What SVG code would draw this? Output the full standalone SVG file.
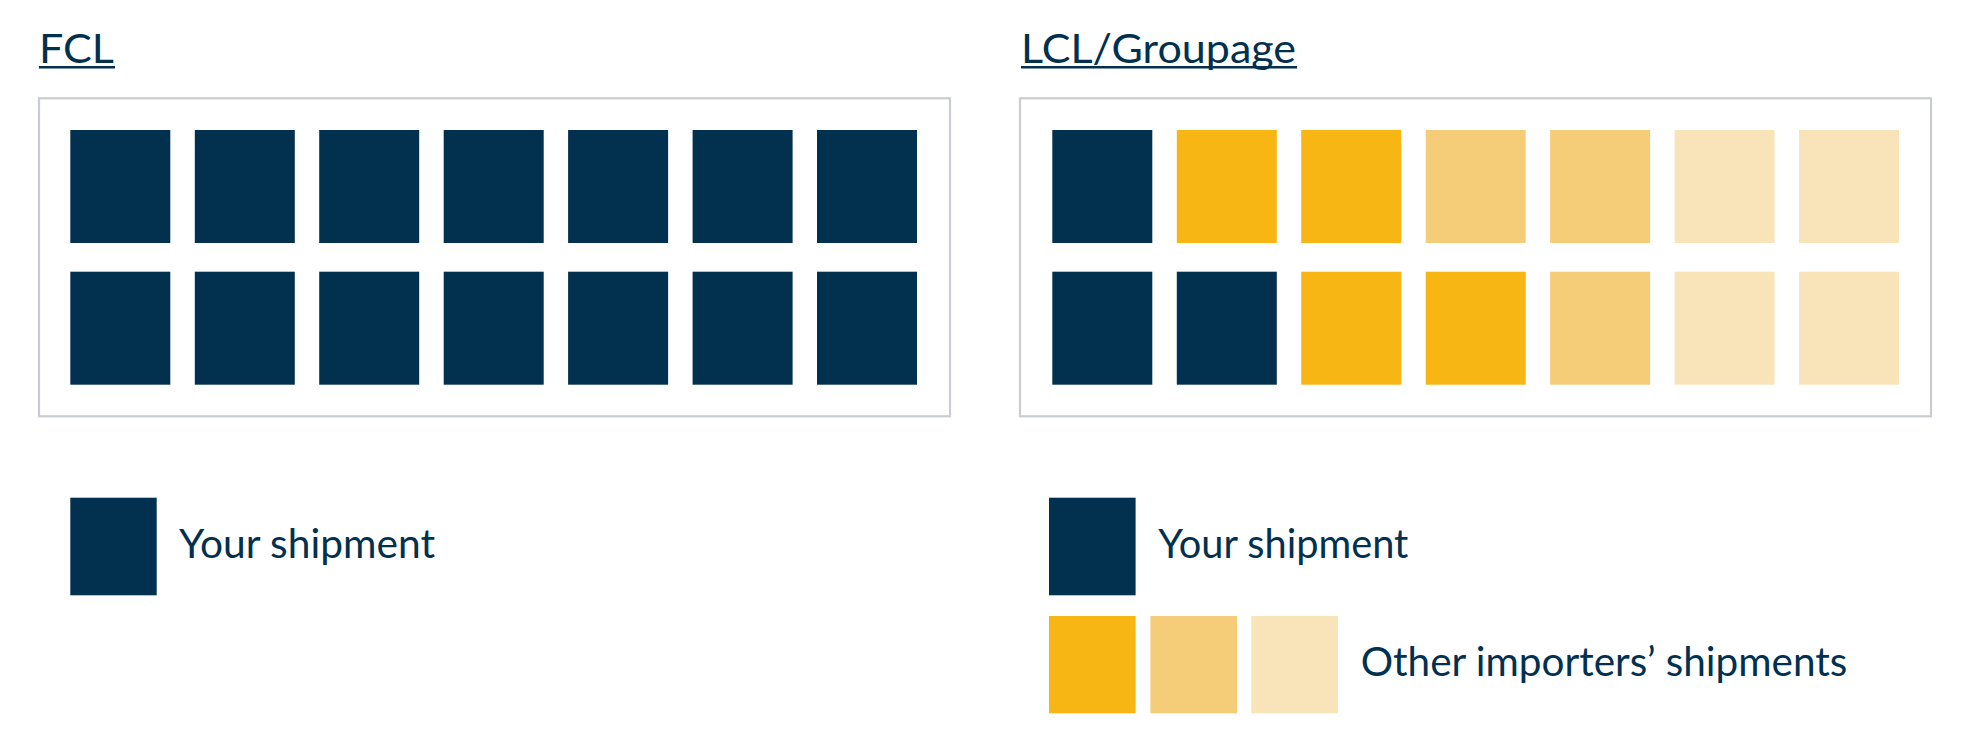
<svg xmlns="http://www.w3.org/2000/svg" width="1970" height="741" viewBox="0 0 1970 741">
  <style>
    .frame { fill: #ffffff; stroke: #c9ccd0; stroke-width: 2.2; }
    .navy { fill: #02304f; }
    .y1 { fill: #f7b614; }
    .y2 { fill: #f5cc78; }
    .y3 { fill: #f9e4b9; }
    .t { font-family: Lato, "Liberation Sans", sans-serif; font-size: 40px; fill: #02304f; }
    .ul { stroke: #02304f; stroke-width: 2.4; }
  </style>
  <rect width="1970" height="741" fill="#ffffff"/>

  <g id="fcl-title">
    <text class="t" x="39" y="62.5" textLength="75" lengthAdjust="spacingAndGlyphs">FCL</text>
    <line class="ul" x1="39" y1="67.3" x2="115" y2="67.3"/>
  </g>

  <g id="lcl-title">
    <text class="t" x="1021" y="62.5" textLength="275" lengthAdjust="spacingAndGlyphs">LCL/Groupage</text>
    <line class="ul" x1="1021" y1="67.3" x2="1297" y2="67.3"/>
  </g>

  <g id="fcl-container">
    <rect class="frame" x="39" y="98.3" width="911" height="318"/>
    <rect class="navy" x="70.3" y="130" width="100" height="113"/>
    <rect class="navy" x="194.8" y="130" width="100" height="113"/>
    <rect class="navy" x="319.2" y="130" width="100" height="113"/>
    <rect class="navy" x="443.7" y="130" width="100" height="113"/>
    <rect class="navy" x="568.1" y="130" width="100" height="113"/>
    <rect class="navy" x="692.6" y="130" width="100" height="113"/>
    <rect class="navy" x="817" y="130" width="100" height="113"/>
    <rect class="navy" x="70.3" y="271.7" width="100" height="113"/>
    <rect class="navy" x="194.8" y="271.7" width="100" height="113"/>
    <rect class="navy" x="319.2" y="271.7" width="100" height="113"/>
    <rect class="navy" x="443.7" y="271.7" width="100" height="113"/>
    <rect class="navy" x="568.1" y="271.7" width="100" height="113"/>
    <rect class="navy" x="692.6" y="271.7" width="100" height="113"/>
    <rect class="navy" x="817" y="271.7" width="100" height="113"/>
  </g>

  <g id="lcl-container">
    <rect class="frame" x="1020" y="98.3" width="911" height="318"/>
    <rect class="navy" x="1052.3" y="130" width="100" height="113"/>
    <rect class="y1" x="1176.8" y="130" width="100" height="113"/>
    <rect class="y1" x="1301.2" y="130" width="100" height="113"/>
    <rect class="y2" x="1425.7" y="130" width="100" height="113"/>
    <rect class="y2" x="1550.1" y="130" width="100" height="113"/>
    <rect class="y3" x="1674.6" y="130" width="100" height="113"/>
    <rect class="y3" x="1799" y="130" width="100" height="113"/>
    <rect class="navy" x="1052.3" y="271.7" width="100" height="113"/>
    <rect class="navy" x="1176.8" y="271.7" width="100" height="113"/>
    <rect class="y1" x="1301.2" y="271.7" width="100" height="113"/>
    <rect class="y1" x="1425.7" y="271.7" width="100" height="113"/>
    <rect class="y2" x="1550.1" y="271.7" width="100" height="113"/>
    <rect class="y3" x="1674.6" y="271.7" width="100" height="113"/>
    <rect class="y3" x="1799" y="271.7" width="100" height="113"/>
  </g>

  <g id="fcl-legend">
    <rect class="navy" x="70.3" y="497.7" width="86.4" height="97.6"/>
    <text class="t" x="179" y="557.5" textLength="256" lengthAdjust="spacingAndGlyphs">Your shipment</text>
  </g>

  <g id="lcl-legend-yours">
    <rect class="navy" x="1049" y="497.7" width="86.6" height="97.6"/>
    <text class="t" x="1158.3" y="557.5" textLength="250" lengthAdjust="spacingAndGlyphs">Your shipment</text>
  </g>

  <g id="lcl-legend-others">
    <rect class="y1" x="1049" y="616" width="86.6" height="97.3"/>
    <rect class="y2" x="1150.4" y="616" width="86.6" height="97.3"/>
    <rect class="y3" x="1251.3" y="616" width="86.6" height="97.3"/>
    <text class="t" x="1360.7" y="676" textLength="486.6" lengthAdjust="spacingAndGlyphs">Other importers’ shipments</text>
  </g>

  <g id="connectors"/>
</svg>
